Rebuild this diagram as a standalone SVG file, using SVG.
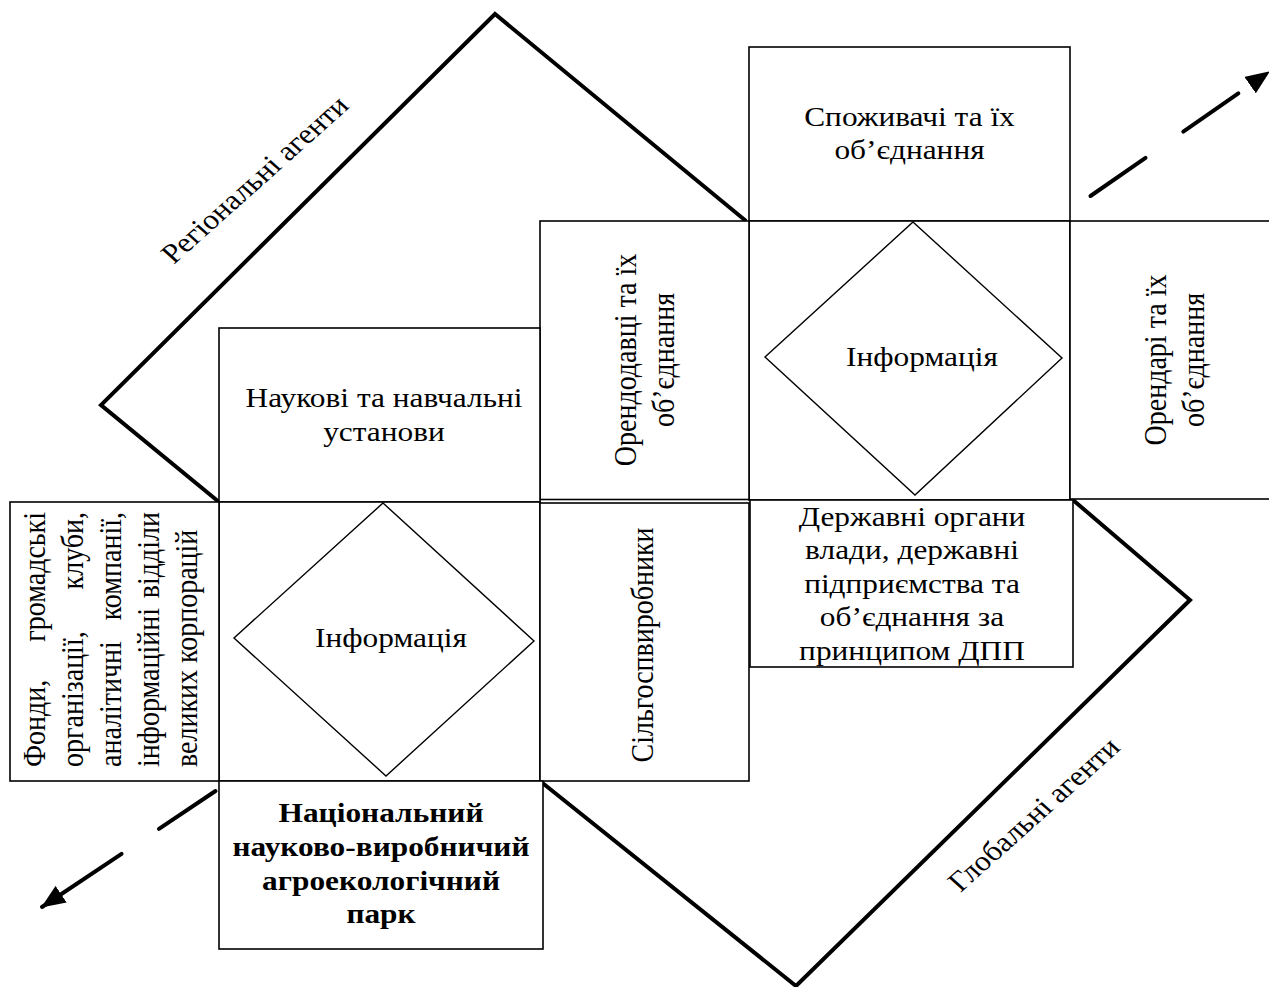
<svg xmlns="http://www.w3.org/2000/svg" width="1269" height="987" viewBox="0 0 1269 987">
<defs>
<style>
.box{fill:#fff;stroke:#000;stroke-width:1.6}
.dia{fill:#fff;stroke:#000;stroke-width:1.4}
.thick{fill:none;stroke:#000;stroke-width:4;stroke-linejoin:miter}
.t{font-family:"Liberation Serif","Times New Roman",serif;font-size:28px;fill:#000}
.c{text-anchor:middle}
.e{text-anchor:end}
.b{font-weight:bold}
.arr{fill:none;stroke:#000;stroke-width:4;stroke-linecap:round}
</style>
<marker id="ah" markerUnits="userSpaceOnUse" viewBox="0 0 24 20" markerWidth="24" markerHeight="20" refX="23" refY="10" orient="auto">
<path d="M0,0 L24,10 L0,20 z" fill="#000"/>
</marker>
</defs>
<rect width="1269" height="987" fill="#fff"/>

<g id="frames">
<polyline class="thick" points="219,502 101,405 495,14 746,221"/>
<polyline class="thick" points="1073,500 1190,600 796,986 540,781"/>
</g>

<g id="connectors">
<path class="arr" d="M1090.5,196 L1269,72" stroke-dasharray="67 46 67 300" marker-end="url(#ah)"/>
<path class="arr" d="M215.5,791 L42,907" stroke-dasharray="68 45 200" marker-end="url(#ah)"/>
</g>

<g id="node-consumers">
<rect class="box" x="749" y="47" width="321" height="174"/>
<text class="t c" transform="matrix(1.12 0 0 1 909.5 126)"><tspan x="0">Споживачі та їх</tspan><tspan x="0" dy="33.5">об’єднання</tspan></text>
</g>

<g id="node-info-right">
<rect class="box" x="749" y="221" width="321" height="279"/>
<polygon class="dia" points="913,222 1062,358 915,495 765,357"/>
<text class="t c" transform="matrix(1.12 0 0 1 922 366)">Інформація</text>
</g>

<g id="node-orendari">
<rect class="box" x="1070" y="221" width="240" height="278"/>
<text class="t c" transform="matrix(1.12 0 0 1 1166 360) rotate(-90)">Орендарі та їх</text>
<text class="t c" transform="matrix(1.12 0 0 1 1204 360) rotate(-90)">об’єднання</text>
</g>

<g id="node-orendodavtsi">
<rect class="box" x="540" y="221" width="209" height="278.5"/>
<text class="t c" transform="matrix(1.12 0 0 1 636 360) rotate(-90)">Орендодавці та їх</text>
<text class="t c" transform="matrix(1.12 0 0 1 674 360) rotate(-90)">об’єднання</text>
</g>

<g id="node-science">
<rect class="box" x="219" y="328" width="321" height="174"/>
<text class="t c" transform="matrix(1.12 0 0 1 384 407)"><tspan x="0">Наукові та навчальні</tspan><tspan x="0" dy="34">установи</tspan></text>
</g>

<g id="node-info-left">
<rect class="box" x="219" y="502" width="321" height="279"/>
<polygon class="dia" points="383,503 534,641 386,776 234,638"/>
<text class="t c" transform="matrix(1.12 0 0 1 391 647)">Інформація</text>
</g>

<g id="node-funds">
<rect class="box" x="10" y="502" width="209" height="279"/>
<text class="t" transform="matrix(1.12 0 0 1 45 767) rotate(-90)"><tspan x="0">Фонди,</tspan><tspan class="e" x="255">громадські</tspan></text>
<text class="t" transform="matrix(1.12 0 0 1 83 767) rotate(-90)"><tspan x="0">організації,</tspan><tspan class="e" x="255">клуби,</tspan></text>
<text class="t" transform="matrix(1.12 0 0 1 121 767) rotate(-90)"><tspan x="0">аналітичні</tspan><tspan class="e" x="255">компанії,</tspan></text>
<text class="t" transform="matrix(1.12 0 0 1 159 767) rotate(-90)"><tspan x="0">інформаційні</tspan><tspan class="e" x="255">відділи</tspan></text>
<text class="t" transform="matrix(1.12 0 0 1 197 767) rotate(-90)">великих корпорацій</text>
</g>

<g id="node-farmers">
<rect class="box" x="540" y="503" width="209" height="278"/>
<text class="t c" transform="matrix(1.12 0 0 1 653 645) rotate(-90)">Сільгоспвиробники</text>
</g>

<g id="node-state">
<rect class="box" x="750" y="500" width="323" height="167"/>
<text class="t c" transform="matrix(1.12 0 0 1 912 526)"><tspan x="0">Державні органи</tspan><tspan x="0" dy="33.5">влади, державні</tspan><tspan x="0" dy="33.5">підприємства та</tspan><tspan x="0" dy="33.5">об’єднання за</tspan><tspan x="0" dy="33.5">принципом ДПП</tspan></text>
</g>

<g id="node-park">
<rect class="box" x="219" y="781" width="324" height="168"/>
<text class="t c b" transform="matrix(1.12 0 0 1 381 822)"><tspan x="0">Національний</tspan><tspan x="0" dy="34">науково-виробничий</tspan><tspan x="0" dy="34">агроекологічний</tspan><tspan x="0" dy="33.5">парк</tspan></text>
</g>

<g id="labels">
<text class="t c" transform="translate(262 186) scale(1.12 1) rotate(-45)">Регіональні агенти</text>
<text class="t c" transform="translate(1041 821) scale(1.12 1) rotate(-45)">Глобальні агенти</text>
</g>
</svg>
